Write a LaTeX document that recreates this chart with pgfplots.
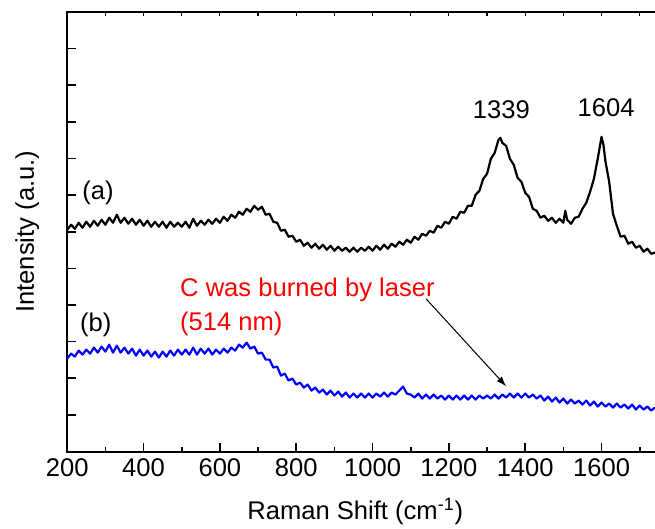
\documentclass[border=0pt]{standalone}
\usepackage{pgfplots}
\pgfplotsset{compat=1.18}
\usepackage{fontspec}
\setmainfont{Liberation Sans}
\usetikzlibrary{calc,arrows.meta}
\newcommand{\fs}{\fontsize{12.8}{15.4}\selectfont}
\begin{document}
\begin{tikzpicture}
\begin{axis}[name=ax, scale only axis, width=296.1pt, height=220pt,
  xmin=200, xmax=1750, ymin=0, ymax=440,
  xtick={200,400,...,1600}, minor xtick={300,500,...,1700},
  xtick pos=left, ytick pos=left,
  ytick={36.667,73.333,110,146.667,183.333,220,256.667,293.333,330,366.667,403.333},
  yticklabels={},
  tick align=inside, major tick length=4.5pt, minor tick length=2.5pt,
  axis line style={line width=1pt},
  every tick/.style={black, line width=0.8pt},
  tick label style={font=\fs},
  /pgf/number format/assume math mode=true,
  /pgf/number format/set thousands separator={},
  xlabel={Raman Shift (cm\textsuperscript{-1})},
  ylabel={Intensity (a.u.)},
  xlabel style={at={(axis description cs:0.487,-0.1364)}, anchor=center, font=\fs},
  ylabel style={at={(axis description cs:-0.0675,0.5)}, anchor=center, font=\fs},
  clip=false]
\addplot[black, line width=1.1pt, line join=round, no markers] coordinates {
(200,222)(210,227)(220,223)(230,229)(240,224)(250,230)(260,225)(270,231)(280,226)(290,232)
(300,227)(310,234)(320,229)(330,237)(340,229)(350,234)(360,228)(370,233)(380,227)(390,232)
(400,226)(410,231)(420,225)(430,230)(440,225)(450,230)(460,224)(470,230)(480,225)(490,229)
(500,225)(510,230)(520,224)(530,233)(540,226)(550,231)(560,227)(570,232)(580,228)(590,233)
(600,229)(610,235)(620,231)(630,237)(640,234)(650,240)(660,237)(670,243)(680,240)(690,246)
(700,242)(710,245)(720,237)(730,238)(740,230)(750,229)(760,221)(770,222)(780,215)(790,216)
(800,210)(810,212)(820,206)(830,209)(840,204)(850,208)(860,203)(870,207)(880,202)(890,206)
(900,201)(910,205)(920,201)(930,204)(940,200)(950,204)(960,200)(970,204)(980,201)(990,205)
(1000,201)(1010,206)(1020,202)(1030,207)(1040,203)(1050,208)(1060,205)(1070,210)(1080,207)(1090,212)
(1100,209)(1110,215)(1120,212)(1130,218)(1140,216)(1150,221)(1160,219)(1170,226)(1180,224)(1190,230)
(1200,228)(1210,235)(1220,233)(1230,240)(1240,239)(1250,246)(1260,246)(1270,257)(1280,261)(1290,273)
(1300,278)(1310,293)(1320,299)(1330,312)(1335,314)(1340,309)(1350,306)(1360,293)(1370,287)(1380,274)
(1390,270)(1400,259)(1410,255)(1420,243)(1430,241)(1440,234)(1450,236)(1460,231)(1470,234)(1480,229)
(1490,233)(1500,229)(1505,241)(1510,232)(1520,228)(1530,234)(1540,235)(1550,243)(1560,249)(1570,260)
(1580,273)(1590,293)(1595,304)(1600,315)(1605,307)(1610,291)(1620,270)(1630,238)(1640,226)(1650,215)
(1660,216)(1670,208)(1680,210)(1690,204)(1700,206)(1710,200)(1720,203)(1730,198)(1740,199)
};
\addplot[blue, line width=1.1pt, line join=round, no markers] coordinates {
(200,93)(210,98)(220,95)(230,101)(240,97)(250,102)(260,98)(270,104)(280,99)(290,105)
(300,100)(310,107)(320,99)(330,106)(340,99)(350,104)(360,98)(370,103)(380,96)(390,102)
(400,96)(410,101)(420,95)(430,100)(440,94)(450,100)(460,95)(470,101)(480,96)(490,102)
(500,97)(510,102)(520,97)(530,104)(540,97)(550,103)(560,98)(570,103)(580,97)(590,102)
(600,98)(610,103)(620,99)(630,104)(640,101)(650,107)(660,104)(670,109)(680,103)(690,105)
(700,98)(710,99)(720,92)(730,92)(740,84)(750,85)(760,76)(770,78)(780,71)(790,73)
(800,67)(810,69)(820,64)(830,67)(840,61)(850,64)(860,59)(870,62)(880,57)(890,61)
(900,56)(910,60)(920,55)(930,59)(940,54)(950,58)(960,54)(970,58)(980,54)(990,58)
(1000,54)(1010,58)(1020,55)(1030,59)(1040,55)(1050,59)(1060,57)(1070,61)(1080,65)(1090,58)
(1100,57)(1110,54)(1120,58)(1130,53)(1140,57)(1150,53)(1160,57)(1170,53)(1180,56)(1190,52)
(1200,56)(1210,52)(1220,56)(1230,52)(1240,56)(1250,52)(1260,56)(1270,52)(1280,56)(1290,53)
(1300,56)(1310,53)(1320,57)(1330,53)(1340,57)(1350,54)(1360,58)(1370,54)(1380,58)(1390,54)
(1400,58)(1410,54)(1420,57)(1430,53)(1440,56)(1450,51)(1460,55)(1470,50)(1480,54)(1490,49)
(1500,53)(1510,48)(1520,52)(1530,48)(1540,51)(1550,47)(1560,51)(1570,46)(1580,50)(1590,45)
(1600,49)(1610,45)(1620,48)(1630,44)(1640,48)(1650,44)(1660,47)(1670,43)(1680,47)(1690,42)
(1700,46)(1710,42)(1720,45)(1730,41)(1740,44)
};
\node[font=\fs, anchor=center] at (axis cs:1337.6,342) {1339};
\node[font=\fs, anchor=center] at (axis cs:1612,344) {1604};
\node[font=\fs, anchor=center] at (axis cs:280.6,259) {(a)};
\node[font=\fs, anchor=center] at (axis cs:275,127) {(b)};
\node[font=\fs, text=red, anchor=base west, inner sep=0pt] at (axis cs:495,155.3) {C was burned by laser};
\node[font=\fs, text=red, anchor=base west, inner sep=0pt] at (axis cs:495,121.3) {(514 nm)};
\draw[line width=0.5pt, -{Latex[length=5pt,width=3.5pt]}] (axis cs:1140.6,152.7) -- (axis cs:1350,65.3);
\end{axis}
\begin{axis}[at={(ax.south west)}, anchor=south west, scale only axis,
  width=296.1pt, height=220pt, xmin=200, xmax=1750, ymin=0, ymax=440,
  axis x line*=top, axis y line=none,
  axis line style={line width=1pt, -},
  xtick={300,400,...,1700}, xticklabels={}, ytick=\empty,
  tick align=inside, major tick length=2pt,
  every tick/.style={black, line width=0.6pt}]
\end{axis}
\pgfresetboundingbox
\path ($(ax.south west)+(-33.65pt,-38.5pt)$) rectangle ($(ax.south west)+(294.2pt,226pt)$);
\end{tikzpicture}
\end{document}
